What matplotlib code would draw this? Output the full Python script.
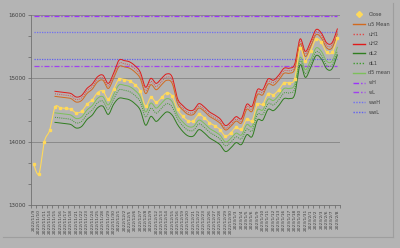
import matplotlib
matplotlib.use("Agg")
import matplotlib.pyplot as plt
from matplotlib.lines import Line2D
import numpy as np

dates = ["2022/11/9","2022/11/10","2022/11/11","2022/11/14","2022/11/15","2022/11/16","2022/11/17",
         "2022/11/18","2022/11/21","2022/11/22","2022/11/23","2022/11/24","2022/11/25","2022/11/28",
         "2022/11/29","2022/11/30","2022/12/1","2022/12/2","2022/12/5","2022/12/6","2022/12/7",
         "2022/12/8","2022/12/9","2022/12/12","2022/12/13","2022/12/14","2022/12/15","2022/12/16",
         "2022/12/19","2022/12/20","2022/12/21","2022/12/22","2022/12/23","2022/12/26","2022/12/27",
         "2022/12/28","2022/12/29","2022/12/30","2023/1/3","2023/1/4","2023/1/5","2023/1/6",
         "2023/1/9","2023/1/10","2023/1/11","2023/1/12","2023/1/13","2023/1/16","2023/1/17",
         "2023/1/18","2023/1/30","2023/1/31","2023/2/1","2023/2/2","2023/2/3","2023/2/6",
         "2023/2/7","2023/2/8"]

close = [13640,13495,14000,14180,14545,14535,14525,14510,14455,14480,14590,14660,14775,14800,
         14670,14830,14985,14980,14960,14900,14800,14560,14700,14620,14700,14770,14720,14510,
         14400,14330,14330,14430,14380,14300,14250,14190,14085,14140,14225,14195,14360,14330,
         14590,14590,14760,14740,14820,14930,14930,14995,15472,15275,15433,15619,15566,15410,
         15410,15630]

band_start = 4
uH2 = [14795,14785,14775,14760,14705,14730,14840,14910,15025,15050,14920,15080,
       15285,15280,15260,15200,15100,14860,15000,14920,15000,15070,15020,
       14680,14570,14500,14500,14600,14550,14470,14420,14360,14255,14310,14395,14365,
       14590,14560,14820,14820,14990,14970,15050,15160,15160,15225,
       15622,15425,15583,15769,15716,15560,15560,15780]
uH1 = [14755,14745,14735,14720,14665,14690,14800,14870,14985,15010,14880,15040,
       15235,15230,15210,15150,15050,14810,14950,14870,14950,15020,14970,
       14640,14530,14460,14460,14560,14510,14430,14380,14320,14215,14270,14355,14325,
       14550,14520,14780,14780,14950,14930,15010,15120,15120,15185,
       15582,15385,15543,15729,15676,15520,15520,15740]
u5_mean = [14715,14705,14695,14680,14625,14650,14760,14830,14945,14970,14840,15000,
           15185,15180,15160,15100,15000,14760,14900,14820,14900,14970,14920,
           14610,14500,14430,14430,14530,14480,14400,14350,14290,14185,14240,14325,14295,
           14510,14480,14740,14740,14910,14890,14970,15080,15080,15145,
           15542,15345,15503,15689,15636,15480,15480,15700]
d5_mean = [14455,14445,14435,14420,14365,14390,14500,14570,14685,14710,14580,14740,
           14895,14890,14870,14810,14710,14470,14610,14530,14610,14680,14630,
           14420,14310,14240,14240,14340,14290,14210,14160,14100,13995,14050,14135,14105,
           14270,14240,14500,14500,14670,14650,14730,14840,14840,14905,
           15332,15135,15293,15479,15426,15270,15270,15490]
dL1 = [14385,14375,14365,14350,14295,14320,14430,14500,14615,14640,14510,14670,
       14815,14810,14790,14730,14630,14390,14530,14450,14530,14600,14550,
       14360,14250,14180,14180,14280,14230,14150,14100,14040,13935,13990,14075,14045,
       14200,14170,14430,14430,14600,14580,14660,14770,14770,14835,
       15272,15075,15233,15419,15366,15210,15210,15430]
dL2 = [14305,14295,14285,14270,14215,14240,14350,14420,14535,14560,14430,14590,
       14685,14680,14660,14600,14500,14260,14400,14320,14400,14470,14420,
       14270,14160,14090,14090,14190,14140,14060,14010,13950,13845,13900,13985,13955,
       14110,14080,14340,14340,14510,14490,14570,14680,14680,14745,
       15212,15015,15173,15359,15306,15150,15150,15370]

wH = 15990
wL = 15195
wwH = 15725
wwL = 15302

BG = "#b4b4b4"
TXT = "#404040"


def smooth(x, y, n=12):
    x = np.asarray(x, float); y = np.asarray(y, float)
    if len(x) < 3:
        return x, y
    P = np.column_stack([x, y])
    P = np.vstack([P[0], P, P[-1]])
    out = []
    t = np.linspace(0, 1, n, endpoint=False)
    for i in range(1, len(P) - 2):
        p0, p1, p2, p3 = P[i-1], P[i], P[i+1], P[i+2]
        b1 = p1 + (p2 - p0) / 6.0
        b2 = p2 - (p3 - p1) / 6.0
        tt = t[:, None]
        seg = ((1-tt)**3)*p1 + 3*((1-tt)**2)*tt*b1 + 3*(1-tt)*tt**2*b2 + tt**3*p2
        out.append(seg)
    out.append(P[-2][None, :])
    out = np.vstack(out)
    return out[:, 0], out[:, 1]


fig = plt.figure(figsize=(4.0, 2.48), dpi=100, facecolor=BG)
ax = fig.add_axes([31/400, 1-205/248, (340-31)/400, (205-15)/248])
ax.set_facecolor(BG)

# chart-area edge (right / bottom)
fig.add_artist(Line2D([3/400, 393/400], [1-237/248, 1-237/248], color="#9e9e9e", lw=0.8))
fig.add_artist(Line2D([393/400, 393/400], [1-237/248, 1-3/248], color="#9e9e9e", lw=0.8))

n = len(dates)
xs = np.arange(n)
xb = np.arange(band_start, n)

bands = [
    (uH2, "uH2", "#e01a1a", "-"),
    (uH1, "uH1", "#e04848", (0, (1, 1.2))),
    (u5_mean, "u5 Mean", "#d2691e", "-"),
    (d5_mean, "d5 mean", "#7cc05a", "-"),
    (dL1, "dL1", "#3f9a30", (0, (1, 1.2))),
    (dL2, "dL2", "#2f7d1f", "-"),
]
handles = {}
for vals, name, col, ls in bands:
    sx, sy = smooth(xb, vals)
    ax.plot(sx, sy, color=col, lw=0.7, ls=ls, zorder=3)
    handles[name] = Line2D([], [], color=col, lw=1.0, ls=ls)

sx, sy = smooth(xs, close)
ax.plot(sx, sy, color="#ffd95a", lw=0.8, zorder=4)
ax.plot(xs, close, ls="none", marker="s", ms=1.6, color="#ffd95a", mec="#ffd95a", zorder=5)
handles["Close"] = Line2D([], [], color="#ffd95a", lw=0, marker="D", ms=3)

hl = [(wH, "wH", "#9b30ff", (0, (4, 1.5, 1, 1.5))),
      (wL, "wL", "#a040f0", (0, (4, 1.5, 1, 1.5))),
      (wwH, "wwH", "#7070f0", (0, (1, 1))),
      (wwL, "wwL", "#6060f0", (0, (1, 1)))]
for v, name, col, ls in hl:
    ax.plot([xs[0], xs[-1]], [v, v], color=col, lw=0.9, ls=ls, zorder=2)
    handles[name] = Line2D([], [], color=col, lw=1.0, ls=ls)

ax.set_xlim(-0.5, n - 0.5)
ax.set_ylim(13000, 16000)
ax.set_yticks([13000, 14000, 15000, 16000])
ax.set_yticks(np.linspace(13000, 16000, 10), minor=True)
ax.yaxis.grid(True, which="major", color="#8a8a8a", lw=0.7, zorder=0)
ax.set_axisbelow(True)
ax.tick_params(axis="y", which="both", direction="out", length=2.5, width=0.6,
               colors="#707070", labelsize=4, labelcolor=TXT, pad=1.5)
ax.set_xticks(xs)
ax.set_xticklabels(dates, rotation=90, fontsize=3.2, color=TXT)
ax.set_xticks(np.arange(-0.5, n), minor=True)
ax.tick_params(axis="x", which="major", length=0, pad=3)
ax.tick_params(axis="x", which="minor", direction="out", length=2.5, width=0.6, colors="#707070")
for s in ["top", "right"]:
    ax.spines[s].set_visible(False)
for s in ["left", "bottom"]:
    ax.spines[s].set_color("#707070")
    ax.spines[s].set_linewidth(0.6)

order = ["Close", "u5 Mean", "uH1", "uH2", "dL2", "dL1", "d5 mean", "wH", "wL", "wwH", "wwL"]
leg = fig.legend([handles[k] for k in order], order, loc="upper left",
                 bbox_to_anchor=(351/400, 1-10/248), frameon=False, fontsize=3.6,
                 labelspacing=0.95, handlelength=2.4, handletextpad=0.7,
                 labelcolor=TXT, borderaxespad=0)

fig.savefig("out.png", dpi=100, facecolor=BG)
